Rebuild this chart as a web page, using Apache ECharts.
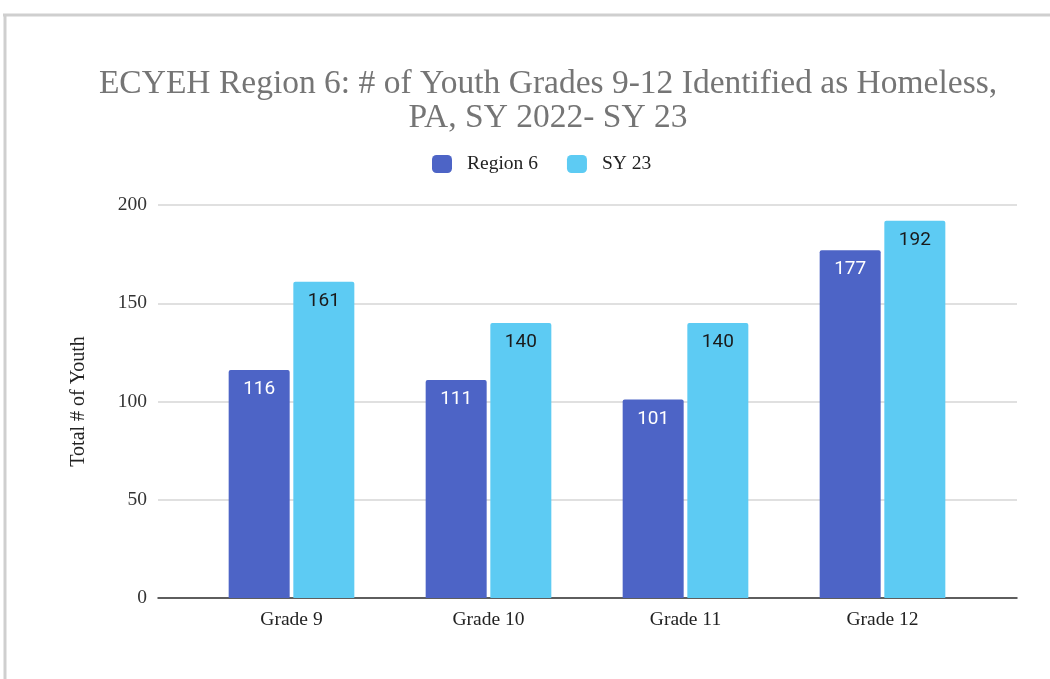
<!DOCTYPE html>
<html>
<head>
<meta charset="utf-8">
<title>ECYEH Region 6</title>
<script src="https://cdn.jsdelivr.net/npm/echarts@6/dist/echarts.min.js"></script>
<style>
  html, body { margin: 0; padding: 0; background: #fff; }
  #chart { width: 1050px; height: 679px; }
</style>
</head>
<body>
<div id="chart"></div>
<script>
  // grade 9-12 youth identified as homeless
  const grades = ["Grade 9", "Grade 10", "Grade 11", "Grade 12"];
  const rows = [
    { name: "Region 6", color: "#4D64C6", labelColor: "#ffffff", values: [116, 111, 101, 177] },
    { name: "SY 23", color: "#5DCBF3", labelColor: "#1a1a1a", values: [161, 140, 140, 192] },
  ];

  const serif = "'Liberation Serif', 'Times New Roman', serif";
  const chart = echarts.init(document.getElementById("chart"));

  const option = {
    animation: false,
    title: {
      text: "ECYEH Region 6: # of Youth Grades 9-12 Identified as Homeless,\nPA, SY 2022- SY 23",
      left: 543,
      textAlign: "center",
      top: 62,
      textStyle: {
        fontFamily: serif,
        fontWeight: "normal",
        fontSize: 33.5,
        lineHeight: 34,
        color: "#757575",
      },
    },
    legend: {
      top: 149,
      left: 427,
      itemWidth: 20,
      itemHeight: 18,
      itemGap: 29,
      icon: "roundRect",
      textStyle: { fontFamily: serif, fontSize: 19.5, color: "#222", padding: [0, 0, 0, 10] },
      data: rows.map((r) => r.name),
    },
    graphic: [
      { type: "line", shape: { x1: 3, y1: 15, x2: 1050, y2: 15 }, style: { stroke: "#cfcfcf", lineWidth: 3 } },
      { type: "line", shape: { x1: 5, y1: 15, x2: 5, y2: 679 }, style: { stroke: "#cfcfcf", lineWidth: 3 } },
    ],
    grid: [
      { left: 158, right: 33, top: 205, bottom: 81 },
      { left: 193, right: 69, top: 205, bottom: 81 },
    ],
    xAxis: [
      {
        gridIndex: 0,
        type: "value",
        min: 0,
        max: 1,
        axisLine: { show: true, lineStyle: { color: "#333", width: 1.5 } },
        axisTick: { show: false },
        axisLabel: { show: false },
        splitLine: { show: false },
      },
      {
        gridIndex: 1,
        type: "category",
        data: grades,
        axisLine: { show: false },
        axisTick: { show: false },
        axisLabel: { fontFamily: serif, fontSize: 19.5, color: "#222", margin: 12 },
      },
    ],
    yAxis: [
      {
        gridIndex: 0,
        type: "value",
        min: 0,
        max: 200,
        interval: 50,
        name: "Total # of Youth",
        nameLocation: "middle",
        nameGap: 69,
        nameTextStyle: { fontFamily: serif, fontSize: 20, color: "#222" },
        axisLine: { show: false },
        axisTick: { show: false },
        axisLabel: { fontFamily: serif, fontSize: 19.5, color: "#333", margin: 11 },
        splitLine: { lineStyle: { color: "#d6d6d6", width: 1.5 } },
      },
      {
        gridIndex: 1,
        type: "value",
        min: 0,
        max: 200,
        interval: 50,
        show: false,
        splitLine: { show: false },
      },
    ],
    series: rows.map((r) => ({
      name: r.name,
      type: "bar",
      xAxisIndex: 1,
      yAxisIndex: 1,
      barWidth: 61,
      barGap: "6%",
      data: r.values,
      itemStyle: { color: r.color, borderRadius: [2, 2, 0, 0] },
      label: {
        show: true,
        position: "insideTop",
        distance: 10,
        fontFamily: "Roboto, sans-serif",
        fontSize: 19,
        color: r.labelColor,
      },
    })),
  };

  chart.setOption(option);
</script>
</body>
</html>
